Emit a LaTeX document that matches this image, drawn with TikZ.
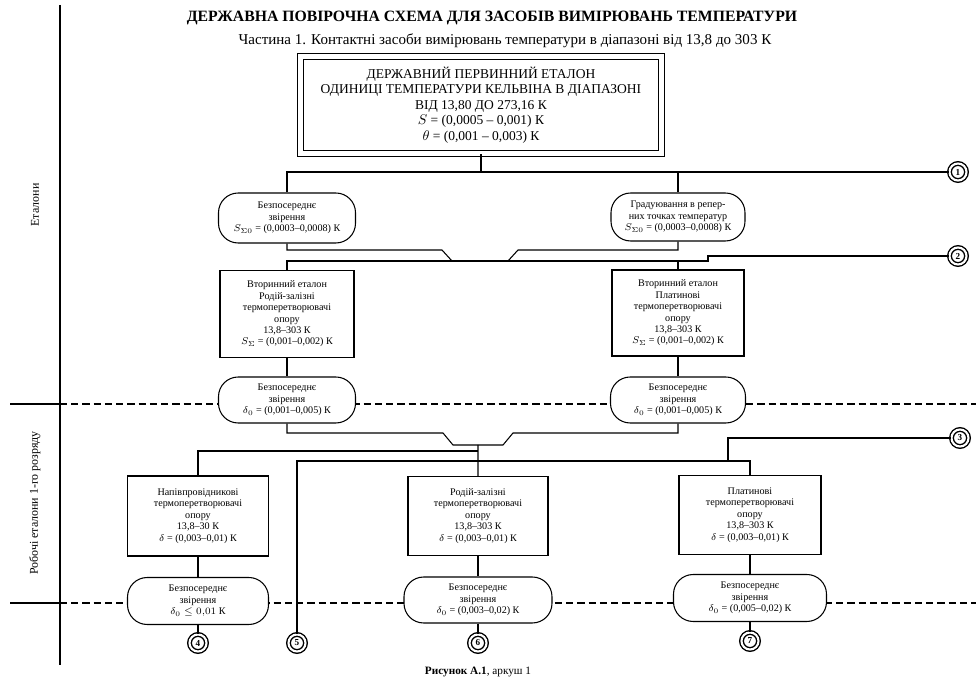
\documentclass[tikz,border=0pt]{standalone}
\usepackage{fontspec}
\setmainfont{Liberation Serif}
\usetikzlibrary{calc}
\def\px{0.025cm}

\begin{document}
\begin{tikzpicture}[x=\px,y=-\px,line width=0.75pt,
    box/.style={rectangle,draw,fill=white,align=center,inner sep=1pt,font=\fontsize{7.2}{8.1}\selectfont},
    pill/.style={rectangle,rounded corners=14pt,draw,fill=white,align=center,inner sep=1pt,font=\fontsize{7.2}{8.1}\selectfont},
    num/.style={circle,draw,double,line width=1pt,double distance=1.5pt,fill=white,inner sep=0pt,minimum size=17*\px,font=\fontsize{6.5}{7}\selectfont\bfseries},
    sep/.style={dash pattern=on 5pt off 3pt}]
    \useasboundingbox (0,0) rectangle (976,682);
    % titles
    \node[font=\fontsize{11.2}{12}\selectfont\bfseries] (title) at (492,18) {ДЕРЖАВНА ПОВІРОЧНА СХЕМА ДЛЯ ЗАСОБІВ ВИМІРЮВАНЬ ТЕМПЕРАТУРИ};
    \node[font=\fontsize{10.7}{12}\selectfont] (sub) at (505,41) {Частина 1. Контактні засоби вимірювань температури в діапазоні від 13,8 до 303 К};
    % frame at the left and level borders
    \draw (60,5) -- (60,665);
    \draw (10,404) -- (60,404);
    \draw[sep] (60,404) -- (976,404);
    \draw (10,603) -- (60,603);
    \draw[sep] (60,603) -- (976,603);
    \node[rotate=90,font=\fontsize{8.5}{9}\selectfont] (lvl1) at (35,205) {Еталони};
    \node[rotate=90,font=\fontsize{8.5}{9}\selectfont] (lvl2) at (35,503) {Робочі еталони 1-го розряду};
    % primary standard
    \node[draw,double,line width=0.8pt,double distance=3.5pt,align=center,
          minimum width=361*\px,minimum height=97*\px,font=\fontsize{9.6}{11}\selectfont] (top) at (481,105)
        {ДЕРЖАВНИЙ ПЕРВИННИЙ ЕТАЛОН\\ОДИНИЦІ ТЕМПЕРАТУРИ КЕЛЬВІНА В ДІАПАЗОНІ\\ВІД 13,80 ДО 273,16 К\\
         $S$ = (0,0005 -- 0,001) К\\$\theta$ = (0,001 -- 0,003) К};
    % circles
    \node[num] (c1) at (958,172) {1};
    \node[num] (c2) at (958,256) {2};
    \node[num] (c3) at (960,438) {3};
    \node[num] (c4) at (198,643) {4};
    \node[num] (c5) at (297,643) {5};
    \node[num] (c6) at (478,643) {6};
    \node[num] (c7) at (750,641) {7};
    % transfer methods
    \node[pill,minimum width=137*\px,minimum height=50*\px] (e1) at (287,218)
        {Безпосереднє\\звірення\\$S_{\Sigma 0}$ = (0,0003--0,0008) К};
    \node[pill,minimum width=134*\px,minimum height=48*\px] (e2) at (678,217)
        {Градуювання в репер-\\них точках температур\\$S_{\Sigma 0}$ = (0,0003--0,0008) К};
    % secondary standards
    \node[box,minimum width=134*\px,minimum height=87*\px] (v1) at (287,314)
        {Вторинний еталон\\Родій-залізні\\термоперетворювачі\\опору\\13,8--303 К\\$S_\Sigma$ = (0,001--0,002) К};
    \node[box,minimum width=132*\px,minimum height=86*\px] (v2) at (678,313)
        {Вторинний еталон\\Платинові\\термоперетворювачі\\опору\\13,8--303 К\\$S_\Sigma$ = (0,001--0,002) К};
    \node[pill,minimum width=137*\px,minimum height=46*\px] (z1) at (287,400)
        {Безпосереднє\\звірення\\$\delta_0$ = (0,001--0,005) К};
    \node[pill,minimum width=135*\px,minimum height=46*\px] (z2) at (678,400)
        {Безпосереднє\\звірення\\$\delta_0$ = (0,001--0,005) К};
    % working standards
    \node[box,minimum width=141*\px,minimum height=80*\px] (r1) at (198,516)
        {Напівпровідникові\\термоперетворювачі\\опору\\13,8--30 К\\$\delta$ = (0,003--0,01) К};
    \node[box,minimum width=140*\px,minimum height=79*\px] (r2) at (478,516)
        {Родій-залізні\\термоперетворювачі\\опору\\13,8--303 К\\$\delta$ = (0,003--0,01) К};
    \node[box,minimum width=142*\px,minimum height=79*\px] (r3) at (750,515)
        {Платинові\\термоперетворювачі\\опору\\13,8--303 К\\$\delta$ = (0,003--0,01) К};
    \node[pill,minimum width=141*\px,minimum height=47*\px] (b1) at (198,601)
        {Безпосереднє\\звірення\\$\delta_0 \le 0{,}01$ К};
    \node[pill,minimum width=148*\px,minimum height=46*\px] (b2) at (478,600)
        {Безпосереднє\\звірення\\$\delta_0$ = (0,003--0,02) К};
    \node[pill,minimum width=153*\px,minimum height=47*\px] (b3) at (750,598)
        {Безпосереднє\\звірення\\$\delta_0$ = (0,005--0,02) К};
    % connectors, upper part
    \draw (top.south) -- (top.south |- c1);
    \draw (e1.north) |- (c1);
    \draw (e2.north) -- (e2.north |- c1);
    \coordinate (k1) at (452,261);
    \coordinate (k2) at (508,261);
    \coordinate (k3) at (708,261);
    \draw (e1.south) |- ($(k1)+(-10,-11)$) -- (k1) -- (k2) -- ++(10,-11) -| (e2.south);
    \draw (v1.north) |- (k3) -- ++(0,-5) -- (c2);
    \draw (v2.north) -- (v2.north |- k3);
    \draw (v1) -- (z1);
    \draw (v2) -- (z2);
    % connectors, lower part
    \coordinate (k4) at (453,445);
    \coordinate (k5) at (503,445);
    \coordinate (ja) at (478,451);
    \coordinate (jb) at (750,461);
    \coordinate (jc) at (728,461);
    \draw (z1.south) |- ($(k4)+(-10,-12)$) -- (k4) -- (k5) -- ++(10,-12) -| (z2.south);
    \draw ($(k4)!0.5!(k5)$) -- (r2.north);
    \draw (r1.north) |- (ja);
    \draw (c5) |- (jb) -- (r3.north);
    \draw (c3) -| (jc);
    \draw (r1) -- (b1);
    \draw (r2) -- (b2);
    \draw (r3) -- (b3);
    \draw (b1) -- (c4);
    \draw (b2) -- (c6);
    \draw (b3) -- (c7);
    % caption
    \node[font=\fontsize{8}{9}\selectfont] (cap) at (478,672) {\textbf{Рисунок А.1}, аркуш 1};
\end{tikzpicture}
\end{document}
